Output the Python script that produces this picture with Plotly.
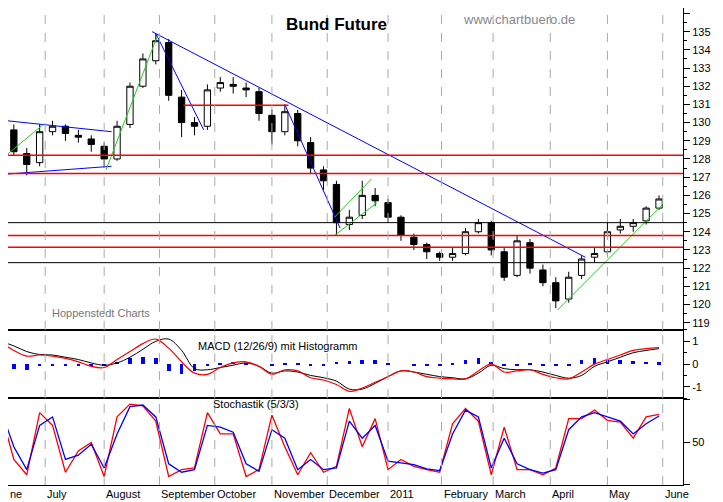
import pandas as pd
import plotly.graph_objects as go
from plotly.subplots import make_subplots

# weekly bars, Bund Future
weeks = pd.date_range('2010-06-07', periods=52, freq='7D')
opens = [130.0, 129.6, 128.3, 127.8, 129.5, 129.8, 129.3, 129.1, 128.7, 128.0, 129.9, 132.0,
         133.4, 134.4, 131.4, 130.0, 129.8, 131.9, 132.1, 131.9, 131.7, 130.4, 129.5, 130.5,
         128.9, 127.4, 126.6, 124.4, 124.9, 126.0, 125.6, 124.8, 123.7, 123.3, 122.8, 122.6,
         122.8, 124.0, 124.5, 122.9, 121.6, 123.4, 121.9, 121.2, 120.3, 121.6, 122.6, 122.9,
         124.1, 124.3, 124.6, 125.3]
closes = [129.6, 128.4, 127.7, 129.5, 129.8, 129.4, 129.2, 128.8, 128.0, 129.8, 132.0, 133.5,
          134.5, 131.5, 130.0, 129.8, 131.8, 132.2, 132.0, 131.8, 130.5, 129.5, 130.6, 129.0,
          127.5, 126.8, 124.5, 124.8, 126.0, 125.7, 124.8, 123.8, 123.3, 122.9, 122.6, 122.8,
          124.0, 124.5, 123.0, 121.5, 123.5, 122.0, 121.2, 120.2, 121.5, 122.5, 122.8, 124.0,
          124.3, 124.5, 125.3, 125.8]
highs = [130.2, 129.9, 128.6, 129.9, 130.1, 129.9, 129.6, 129.3, 128.9, 130.1, 132.2, 133.8,
         134.9, 134.6, 131.8, 130.3, 132.1, 132.5, 132.5, 132.2, 131.9, 130.7, 131.0, 130.7,
         129.2, 127.6, 126.8, 125.2, 126.8, 126.4, 125.8, 124.9, 123.9, 123.4, 122.9, 123.1,
         124.2, 124.7, 124.6, 123.1, 123.8, 123.6, 122.2, 121.5, 121.8, 122.7, 123.1, 124.5,
         124.7, 124.7, 125.4, 126.0]
lows = [129.4, 128.2, 127.1, 127.6, 129.3, 129.0, 128.9, 128.4, 127.5, 127.9, 129.7, 131.9,
        133.2, 131.2, 129.2, 129.3, 129.6, 131.7, 131.6, 131.4, 130.1, 128.8, 129.3, 128.7,
        127.2, 126.3, 123.8, 124.1, 124.7, 125.4, 124.5, 123.5, 123.0, 122.5, 122.4, 122.4,
        122.7, 123.9, 122.7, 121.3, 121.5, 121.7, 121.0, 119.8, 120.1, 121.4, 122.3, 122.7,
        123.9, 124.0, 124.4, 125.2]

macd_line = [0.95, 0.6, 0.35, 0.4, 0.35, 0.25, 0.1, -0.1, -0.15, 0.2, 0.55, 0.9,
             1.1, 0.7, 0.1, -0.4, -0.45, -0.15, 0.05, 0.1, -0.1, -0.45, -0.25, -0.3,
             -0.6, -0.7, -0.9, -1.2, -1.05, -0.8, -0.55, -0.3, -0.35, -0.55, -0.62, -0.65,
             -0.65, -0.3, 0.0, -0.35, -0.3, -0.25, -0.45, -0.6, -0.65, -0.35, 0.0, 0.2,
             0.4, 0.6, 0.68, 0.72]
signal_line = [1.0, 0.8, 0.55, 0.42, 0.4, 0.3, 0.2, 0.05, -0.05, 0.05, 0.3, 0.65,
               1.0, 1.1, 0.6, -0.2, -0.25, -0.15, -0.05, 0.05, -0.1, -0.4, -0.3, -0.35,
               -0.5, -0.6, -0.75, -1.1, -1.1, -0.85, -0.55, -0.3, -0.35, -0.45, -0.55, -0.6,
               -0.65, -0.4, -0.05, -0.2, -0.25, -0.25, -0.35, -0.5, -0.62, -0.5, -0.1, 0.1,
               0.3, 0.5, 0.6, 0.68]
histo = [-0.05, -0.2, -0.25, -0.05, -0.05, -0.05, -0.05, -0.1, -0.05, 0.1, 0.25, 0.3,
         0.25, -0.3, -0.45, -0.3, -0.1, 0.05, 0.1, 0.05, 0.0, -0.05, 0.05, 0.05,
         -0.05, -0.05, 0.1, 0.15, 0.2, 0.2, 0.05, 0.0, -0.05, -0.05, -0.05, 0.05,
         0.2, 0.25, 0.1, -0.1, -0.05, 0.05, -0.05, -0.05, -0.05, 0.2, 0.25, 0.2,
         0.2, 0.15, 0.1, 0.08]

stoch_k = [85, 30, 12, 85, 70, 15, 40, 50, 10, 80, 95, 93,
           75, 10, 18, 20, 85, 60, 60, 10, 18, 82, 45, 12,
           38, 15, 22, 90, 45, 78, 18, 30, 22, 18, 15, 72,
           90, 75, 12, 68, 18, 18, 12, 20, 78, 78, 88, 76,
           74, 55, 80, 83]
stoch_d = [88, 45, 18, 70, 80, 30, 35, 48, 20, 60, 92, 94,
           80, 25, 15, 18, 70, 68, 62, 25, 16, 65, 55, 18,
           30, 18, 20, 75, 55, 70, 28, 26, 24, 19, 17, 60,
           88, 80, 20, 55, 25, 18, 14, 18, 65, 80, 85, 80,
           75, 60, 72, 81]

red_levels = [128.2, 127.2, 123.8, 123.15]
black_levels = [124.5, 122.3]

blue_lines = [
    (['2010-06-01', '2010-08-06'], [130.2, 129.5]),
    (['2010-06-01', '2010-08-06'], [127.1, 127.6]),
    (['2010-08-28', '2011-04-20'], [135.0, 122.6]),
    (['2010-08-30', '2010-09-25'], [134.9, 129.6]),
    (['2010-11-08', '2010-12-08'], [131.0, 124.2]),
]
green_lines = [
    (['2010-06-05', '2010-06-30'], [127.8, 129.9]),
    (['2010-08-03', '2010-08-31'], [127.4, 134.8]),
    (['2010-12-05', '2010-12-28'], [123.8, 125.6]),
    (['2010-12-05', '2010-12-25'], [124.8, 126.9]),
    (['2011-04-05', '2011-06-01'], [119.7, 125.5]),
]
red_segment = (['2010-09-14', '2010-11-10'], [130.95, 130.95])

month_starts = ['2010-07-01', '2010-08-02', '2010-09-01', '2010-10-01', '2010-11-01', '2010-12-01',
                '2011-01-03', '2011-02-01', '2011-03-01', '2011-04-01', '2011-05-02', '2011-06-01']
month_labels = ['July', 'August', 'September', 'October', 'November', 'December',
                '2011', 'February', 'March', 'April', 'May', 'June']

fig = make_subplots(rows=3, cols=1, shared_xaxes=True, vertical_spacing=0,
                    row_heights=[0.675, 0.143, 0.182])

fig.add_trace(go.Candlestick(x=weeks, open=opens, high=highs, low=lows, close=closes,
    increasing=dict(line=dict(color='black', width=1), fillcolor='white'),
    decreasing=dict(line=dict(color='black', width=1), fillcolor='black'),
    whiskerwidth=0, showlegend=False), row=1, col=1)

for lv in red_levels:
    fig.add_hline(y=lv, line=dict(color='red', width=1.5), row=1, col=1)
for lv in black_levels:
    fig.add_hline(y=lv, line=dict(color='black', width=1), row=1, col=1)
for xs, ys in blue_lines:
    fig.add_trace(go.Scatter(x=xs, y=ys, mode='lines', line=dict(color='blue', width=1),
                             showlegend=False), row=1, col=1)
for xs, ys in green_lines:
    fig.add_trace(go.Scatter(x=xs, y=ys, mode='lines', line=dict(color='#22cc22', width=1),
                             showlegend=False), row=1, col=1)
fig.add_trace(go.Scatter(x=red_segment[0], y=red_segment[1], mode='lines',
                         line=dict(color='red', width=1.5), showlegend=False), row=1, col=1)

fig.add_trace(go.Bar(x=weeks, y=histo, marker=dict(color='blue', line=dict(width=0)),
                     width=2 * 86400000, showlegend=False), row=2, col=1)
fig.add_trace(go.Scatter(x=weeks, y=signal_line, mode='lines', line=dict(color='black', width=1, shape='spline'),
                         showlegend=False), row=2, col=1)
fig.add_trace(go.Scatter(x=weeks, y=macd_line, mode='lines', line=dict(color='red', width=1.2, shape='spline'),
                         showlegend=False), row=2, col=1)

fig.add_hline(y=80, line=dict(color='blue', width=1.5), row=3, col=1)
fig.add_hline(y=20, line=dict(color='blue', width=1.5), row=3, col=1)
fig.add_trace(go.Scatter(x=weeks, y=stoch_k, mode='lines', line=dict(color='red', width=1.3),
                         showlegend=False), row=3, col=1)
fig.add_trace(go.Scatter(x=weeks, y=stoch_d, mode='lines', line=dict(color='blue', width=1.3),
                         showlegend=False), row=3, col=1)

for m in month_starts:
    for r in (1, 2, 3):
        fig.add_vline(x=m, line=dict(color='#aaaaaa', width=1, dash='dash'), row=r, col=1)

xr = ['2010-06-10 20:00', '2011-06-12']
fig.update_xaxes(range=xr, showgrid=False, showticklabels=False, rangeslider_visible=False,
                 showline=True, linecolor='black', mirror=True, ticks='', automargin=False)
fig.update_yaxes(side='right', showgrid=False, showline=True, linecolor='black', mirror=True,
                 ticks='outside', ticklen=6, tickcolor='black', zeroline=False, automargin=False,
                 tickfont=dict(size=11, color='black'))
fig.update_yaxes(range=[118.6, 136.3], dtick=1, minor=dict(dtick=0.5, ticks='outside', ticklen=3),
                 row=1, col=1)
fig.update_yaxes(range=[-1.5, 1.5], tickvals=[-1, 0, 1], ticktext=['-1', '0', '1'],
                 minor=dict(dtick=0.5, ticks='outside', ticklen=3), row=2, col=1)
fig.update_yaxes(range=[0, 102], tickvals=[0, 50, 100], ticktext=['', '50', ''], row=3, col=1)

ann = [
    dict(text='<b>Bund Future</b>', x=0.487, y=0.989, font=dict(size=17, color='black')),
    dict(text='www.chartbuero.de', x=0.843, y=0.995, font=dict(size=13, color='#888888')),
    dict(text='Hoppenstedt Charts', x=0.062, y=0.36, font=dict(size=11, color='#777777')),
    dict(text='MACD (12/26/9) mit Histogramm', x=0.40, y=0.275, font=dict(size=11, color='black')),
    dict(text='Stochastik (5/3/3)', x=0.30, y=0.152, font=dict(size=11, color='black')),
]
for a in ann:
    fig.add_annotation(xref='paper', yref='paper', showarrow=False, **a)
fig.add_annotation(text='ne', xref='paper', yref='paper', x=0, y=-0.003, xanchor='left',
                   yanchor='top', showarrow=False, font=dict(size=11, color='black'))
for m, lab in zip(month_starts, month_labels):
    fig.add_annotation(text=lab, x=m, xref='x3', yref='paper', y=-0.003, xanchor='left',
                       yanchor='top', showarrow=False, font=dict(size=11, color='black'))

fig.update_layout(
    width=715, height=494,
    margin=dict(l=0, r=40, t=0, b=17),
    paper_bgcolor='white', plot_bgcolor='white',
    font=dict(family='Liberation Sans, Arial', color='black'),
    bargap=0,
)

fig.write_html('out.html')
